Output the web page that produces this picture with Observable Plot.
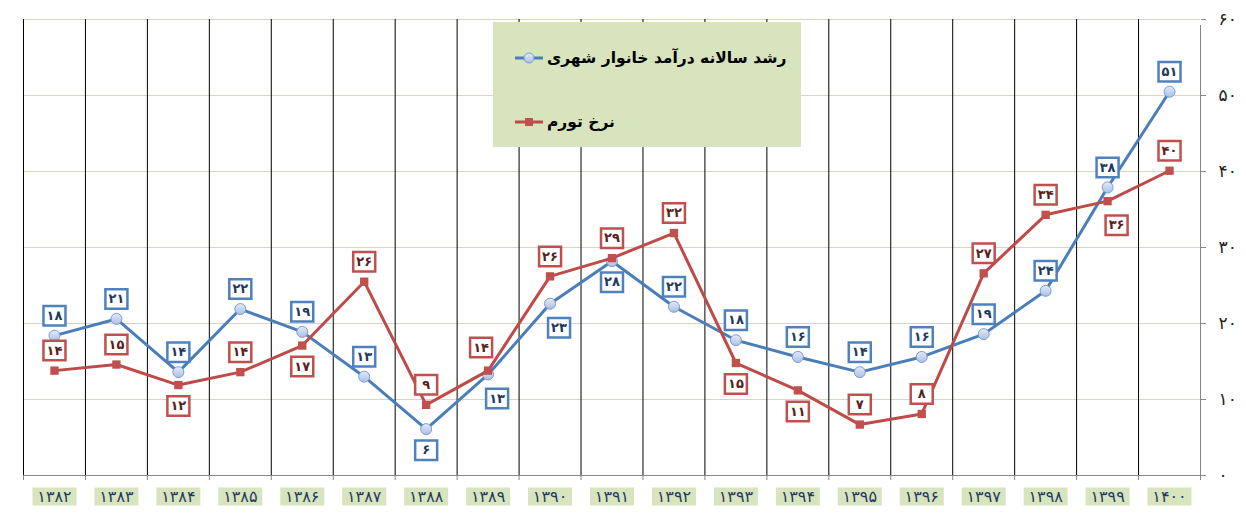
<!DOCTYPE html>
<html>
<head>
<meta charset="utf-8">
<script src="https://cdn.jsdelivr.net/npm/d3@7"></script>
<script src="https://cdn.jsdelivr.net/npm/@observablehq/plot@0.6"></script>
<style>
  body { margin: 0; background: #fff; }
  #wrap { position: relative; width: 1246px; height: 519px; font-family: "DejaVu Sans", sans-serif; }
  #legend { position: absolute; left: 493px; top: 22px; width: 308px; height: 125px; background: #d7e4bd; }
  .item { position: absolute; left: 22px; display: flex; align-items: center; }
  .item span { font-weight: bold; font-size: 15.5px; color: #000; margin-left: 4px; direction: rtl; white-space: nowrap; }
</style>
</head>
<body>
<div id="wrap"><div id="legend"></div></div>
<script>
// ---- data ----
const years = [1382, 1383, 1384, 1385, 1386, 1387, 1388, 1389, 1390, 1391, 1392, 1393, 1394, 1395, 1396, 1397, 1398, 1399, 1400];
const incomeGrowth = [18.4, 20.6, 13.6, 21.9, 18.9, 13.0, 6.1, 13.3, 22.6, 28.2, 22.2, 17.8, 15.6, 13.6, 15.6, 18.6, 24.3, 37.9, 50.5];
const inflation = [13.8, 14.6, 11.9, 13.6, 17.1, 25.5, 9.3, 13.8, 26.2, 28.6, 31.9, 14.8, 11.2, 6.7, 8.1, 26.6, 34.3, 36.1, 40.1];
const incomeLabelSide = ["t","t","t","t","t","t","b","br","br","b","t","t","t","t","t","t","t","t","t"];
const inflationLabelSide = ["t","t","b","t","b","t","t","tl","t","t","t","b","b","t","t","t","t","br","t"];
const yTicks = [0, 10, 20, 30, 40, 50, 60];
const seriesNames = ["رشد سالانه درآمد خانوار شهری", "نرخ تورم"];

// ---- helpers ----
const faDigits = "۰۱۲۳۴۵۶۷۸۹";
const fa = (n) => String(n).replace(/\d/g, (d) => faDigits[d]);

const blue = "#4a7ebb", red = "#be4b48";
const incomeRows = years.map((y, i) => ({ i, year: y, value: incomeGrowth[i], side: incomeLabelSide[i] }));
const inflationRows = years.map((y, i) => ({ i, year: y, value: inflation[i], side: inflationLabelSide[i] }));
const yearRows = years.map((y, i) => ({ i, year: y }));
const boundaries = d3.range(years.length + 1).map((k) => k - 0.5);

const rectSymbol = (w, h) => ({
  draw(ctx) {
    ctx.moveTo(-w / 2, -h / 2); ctx.lineTo(w / 2, -h / 2);
    ctx.lineTo(w / 2, h / 2); ctx.lineTo(-w / 2, h / 2); ctx.closePath();
  }
});
const labelBox = rectSymbol(22, 19.5);
const yearBox = rectSymbol(44, 18);
const offsets = { t: [0, -20], b: [0, 21], br: [9, 24], tl: [-7, -23] };

function labelMarks(rows, stroke, textFill) {
  return Object.entries(offsets).flatMap(([side, [dx, dy]]) => {
    const sub = rows.filter((r) => r.side === side);
    return [
      Plot.dot(sub, { x: "i", y: "value", symbol: labelBox, fill: "white", stroke, strokeWidth: 2.5, dx, dy }),
      Plot.text(sub, { x: "i", y: "value", text: (d) => fa(Math.round(d.value)), dx, dy, fill: textFill, fontSize: 13, fontWeight: "bold" })
    ];
  });
}

const chart = Plot.plot({
  width: 1246,
  height: 519,
  marginLeft: 23,
  marginRight: 46,
  marginTop: 19,
  marginBottom: 44,
  style: { fontFamily: "DejaVu Sans, sans-serif", background: "white", overflow: "visible" },
  x: { type: "linear", domain: [-0.5, years.length - 0.5], axis: null },
  y: { domain: [0, 60], axis: null },
  marks: [
    Plot.ruleY(yTicks.filter((v) => v > 0), { stroke: "#d7d7bf", strokeWidth: 1 }),
    Plot.ruleX(boundaries.slice(0, -1), { x: (d) => d, y1: 0, y2: 60, stroke: "#000", strokeWidth: 1 }),
    Plot.ruleX([years.length - 0.5], { x: (d) => d, y1: 0, y2: 60, stroke: "#868686", insetBottom: -6 }),
    Plot.ruleY([0], { stroke: "#868686", insetRight: -5 }),
    Plot.axisX({ ticks: boundaries, tickSize: 5, tickFormat: () => "", stroke: "#868686", label: null }),
    Plot.axisY({ anchor: "right", ticks: yTicks, tickSize: 5, tickPadding: 13, tickFormat: fa, fontSize: 17, stroke: "#868686", fill: "#222", label: null }),
    Plot.dot(yearRows, { x: "i", frameAnchor: "bottom", dy: 21, symbol: yearBox, fill: "#d7e4bd" }),
    Plot.text(yearRows, { x: "i", frameAnchor: "bottom", dy: 21, lineAnchor: "middle", text: (d) => fa(d.year), fontSize: 16, fill: "#1f3a60" }),
    Plot.line(incomeRows, { x: "i", y: "value", stroke: blue, strokeWidth: 3 }),
    Plot.dot(incomeRows, { x: "i", y: "value", r: 5.5, fill: "url(#blueGrad)", stroke: "#7d9bcd", strokeWidth: 1 }),
    Plot.line(inflationRows, { x: "i", y: "value", stroke: red, strokeWidth: 3 }),
    Plot.dot(inflationRows, { x: "i", y: "value", symbol: "square", r: 4.7, fill: "#c0504d" }),
    ...labelMarks(incomeRows, "#4f81bd", "#1f3a60"),
    ...labelMarks(inflationRows, "#c0504d", "#5a1f1d")
  ]
});

// gradient for circle markers
const svgNS = "http://www.w3.org/2000/svg";
const defs = document.createElementNS(svgNS, "defs");
defs.innerHTML = '<linearGradient id="blueGrad" x1="0" y1="0" x2="0" y2="1"><stop offset="0" stop-color="#e3ebf7"/><stop offset="1" stop-color="#a8c0e4"/></linearGradient>';
chart.insertBefore(defs, chart.firstChild);
document.getElementById("wrap").insertBefore(chart, document.getElementById("legend"));

// legend
const legend = document.getElementById("legend");
const legendItems = [
  { name: seriesNames[0], top: 27, marker: '<line x1="0" y1="6" x2="28" y2="6" stroke="' + blue + '" stroke-width="3"/><circle cx="14" cy="6" r="5" fill="url(#blueGrad)" stroke="#7d9bcd"/>' },
  { name: seriesNames[1], top: 91, marker: '<line x1="0" y1="6" x2="28" y2="6" stroke="' + red + '" stroke-width="3"/><rect x="10" y="2" width="8" height="8" fill="#c0504d"/>' }
];
for (const it of legendItems) {
  const div = document.createElement("div");
  div.className = "item";
  div.style.top = it.top + "px";
  div.innerHTML = '<svg width="28" height="12" style="overflow:visible">' + it.marker + '</svg><span>' + it.name + '</span>';
  legend.appendChild(div);
}
</script>
</body>
</html>
